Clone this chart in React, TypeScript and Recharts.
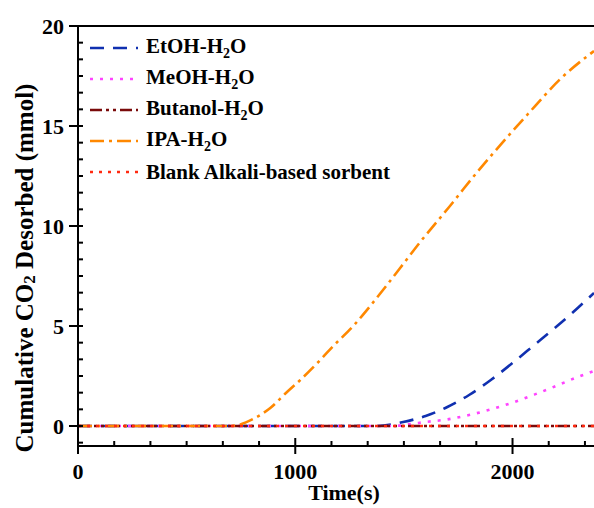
import { Label, Line, LineChart, ReferenceLine, XAxis, YAxis } from 'recharts'

// time (s) / cumulative CO2 desorbed (mmol)
const IPA_T = [0, 700, 747, 806, 885, 962, 1023, 1115, 1175, 1267, 1345, 1422, 1497, 1575, 1651, 1727, 1774, 1912, 2067, 2220, 2375]
const IPA_V = [0, 0, 0.08, 0.35, 0.9, 1.7, 2.3, 3.3, 4.0, 5.0, 6.0, 7.05, 8.1, 9.2, 10.2, 11.2, 11.85, 13.65, 15.55, 17.35, 18.75]

const ETOH_T = [0, 1375, 1497, 1600, 1700, 1800, 1900, 2000, 2100, 2200, 2300, 2375]
const ETOH_V = [0, 0, 0.2, 0.5, 0.95, 1.55, 2.3, 3.15, 4.05, 4.95, 5.9, 6.65]

const MEOH_T = [0, 1450, 1529, 1600, 1700, 1800, 1900, 2000, 2100, 2200, 2300, 2375]
const MEOH_V = [0, 0, 0.1, 0.2, 0.33, 0.55, 0.83, 1.17, 1.57, 2.0, 2.45, 2.75]

const BUTANOL_T = [0, 1200, 2375]
const BUTANOL_V = [0, 0, 0]

const BLANK_T = [0, 1200, 2375]
const BLANK_V = [0, 0, 0]

const X_MAJOR = [0, 1000, 2000]
const Y_MAJOR = [0, 5, 10, 15, 20]
const X_DOMAIN: [number, number] = [0, 2375]
const Y_DOMAIN: [number, number] = [-1, 20]

const FONT = '"Liberation Serif", "Times New Roman", serif'

type Series = {
  name: string
  base: string
  t: number[]
  v: number[]
  color: string
  dash: string
}

const SERIES: Series[] = [
  { name: 'EtOH-H', base: 'EtOH', t: ETOH_T, v: ETOH_V, color: '#1030b0', dash: '14 9' },
  { name: 'MeOH-H', base: 'MeOH', t: MEOH_T, v: MEOH_V, color: '#ff44ff', dash: '3 7' },
  { name: 'Butanol-H', base: 'Butanol', t: BUTANOL_T, v: BUTANOL_V, color: '#7a0a0a', dash: '12 4 3 4 3 4' },
  { name: 'IPA-H', base: 'IPA', t: IPA_T, v: IPA_V, color: '#ff8800', dash: '14 5 3 5' },
  { name: 'Blank Alkali-based sorbent', base: 'Blank', t: BLANK_T, v: BLANK_V, color: '#ff2a10', dash: '3 6' },
]

function toPoints(t: number[], v: number[]) {
  return t.map((time, i) => ({ time, value: v[i] }))
}

// minor ticks: 5 between majors
function withMinor(majors: number[], lo: number, hi: number) {
  const step = (majors[1] - majors[0]) / 6
  const out: number[] = []
  for (let k = Math.ceil((lo - majors[0]) / step - 1e-6); majors[0] + k * step <= hi + 1e-6; k++) {
    out.push(Math.round((majors[0] + k * step) * 1000) / 1000)
  }
  return out
}

const X_TICKS = withMinor(X_MAJOR, X_DOMAIN[0], X_DOMAIN[1])
const Y_TICKS = withMinor(Y_MAJOR, Y_DOMAIN[0], Y_DOMAIN[1])

function isMajor(v: number, majors: number[]) {
  return majors.some((m) => Math.abs(m - v) < 1e-3)
}

function XTick(props: any) {
  const { x, y, payload } = props
  const major = isMajor(payload.value, X_MAJOR)
  return (
    <g>
      <line x1={x} x2={x} y1={major ? y - 8 : y - 5} y2={major ? y + 8 : y} stroke="#000" strokeWidth={2} />
      {major && (
        <text x={x} y={y + 33} textAnchor="middle" fontFamily={FONT} fontWeight="bold" fontSize={22} fill="#000">
          {payload.value}
        </text>
      )}
    </g>
  )
}

function YTick(props: any) {
  const { x, y, payload } = props
  const major = isMajor(payload.value, Y_MAJOR)
  return (
    <g>
      <line x1={major ? x - 9 : x} x2={x + 5} y1={y} y2={y} stroke="#000" strokeWidth={2} />
      {major && (
        <text x={x - 14} y={y + 7.5} textAnchor="end" fontFamily={FONT} fontWeight="bold" fontSize={22} fill="#000">
          {payload.value}
        </text>
      )}
    </g>
  )
}

function LegendBox() {
  return (
    <div
      style={{
        position: 'absolute',
        left: 89,
        top: 32,
        fontFamily: FONT,
        fontWeight: 'bold',
        fontSize: 21,
        color: '#000',
        pointerEvents: 'none',
      }}
    >
      {SERIES.map((s) => (
        <div key={s.base} style={{ display: 'flex', alignItems: 'center', height: 31.2, whiteSpace: 'nowrap' }}>
          <svg width={50} height={10} style={{ marginRight: 7 }}>
            <line x1={1} x2={49} y1={5} y2={5} stroke={s.color} strokeWidth={2.6} strokeDasharray={s.dash} />
          </svg>
          <span>
            {s.name}
            {s.base !== 'Blank' && (
              <>
                <sub style={{ fontSize: 14, verticalAlign: -5 }}>2</sub>O
              </>
            )}
          </span>
        </div>
      ))}
    </div>
  )
}

function App() {
  return (
    <div style={{ position: 'absolute', left: 0, top: 0, width: 594, height: 508, background: '#fff' }}>
      <LineChart width={594} height={508} margin={{ top: 26, right: 0, bottom: 0, left: 0 }}>
        <XAxis
          dataKey="time"
          type="number"
          domain={X_DOMAIN}
          ticks={X_TICKS}
          interval={0}
          allowDataOverflow
          tickSize={0}
          tickMargin={0}
          tickLine={false}
          tick={<XTick />}
          axisLine={{ stroke: '#000', strokeWidth: 2 }}
          height={62}
        >
          <Label
            content={() => (
              <text x={344} y={500} textAnchor="middle" fontFamily={FONT} fontWeight="bold" fontSize={22} fill="#000">
                Time(s)
              </text>
            )}
          />
        </XAxis>
        <YAxis
          type="number"
          domain={Y_DOMAIN}
          ticks={Y_TICKS}
          interval={0}
          allowDataOverflow
          tickSize={0}
          tickMargin={0}
          tickLine={false}
          tick={<YTick />}
          axisLine={{ stroke: '#000', strokeWidth: 2 }}
          width={78}
        >
          <Label
            content={() => (
              <text
                x={24}
                y={268}
                transform="rotate(-90 24 268)"
                textAnchor="middle"
                dominantBaseline="central"
                fontFamily={FONT}
                fontWeight="bold"
                fontSize={25}
                fill="#000"
              >
                Cumulative CO
                <tspan fontSize={17} dy={5}>2</tspan>
                <tspan dy={-5}> Desorbed (mmol)</tspan>
              </text>
            )}
          />
        </YAxis>
        <ReferenceLine y={20} stroke="#000" strokeWidth={2} />
        {SERIES.map((s) => (
          <Line
            key={s.base}
            data={toPoints(s.t, s.v)}
            dataKey="value"
            type="monotone"
            stroke={s.color}
            strokeWidth={2.6}
            strokeDasharray={s.dash}
            dot={false}
            activeDot={false}
            isAnimationActive={false}
            legendType="none"
          />
        ))}
      </LineChart>
      <LegendBox />
    </div>
  )
}

export default App
